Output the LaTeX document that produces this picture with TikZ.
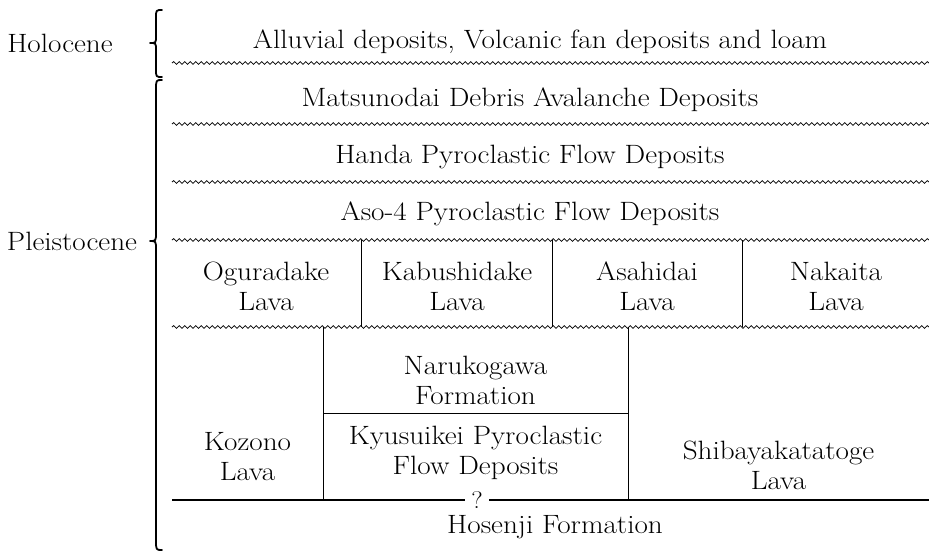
\documentclass[tikz,border=0pt]{standalone}
\usepackage{fontspec}
\setmainfont{Latin Modern Roman}[FakeStretch=1.1]
\usetikzlibrary{decorations.pathmorphing}
\begin{document}
\begin{tikzpicture}[x=1pt,y=-1pt,
  lbl/.style={font=\fontsize{26.5}{30}\selectfont, inner sep=0pt, align=center},
  wavy/.style={line width=0.8pt, decorate, decoration={snake, amplitude=1.4pt, segment length=5.5pt}},
  rule/.style={line width=0.9pt},
  bracel/.style={line width=1.8pt, line cap=round, line join=round}]
\useasboundingbox (0,0) rectangle (929,554);
% labels
\node[lbl] (holo) at (60,43) {Holocene};
\node[lbl] (plei) at (72,241) {Pleistocene};
\node[lbl] (alluv) at (540,42) {Alluvial deposits, Volcanic fan deposits and loam};
\node[lbl] (mats) at (530,100) {Matsunodai Debris Avalanche Deposits};
\node[lbl] (handa) at (530,157) {Handa Pyroclastic Flow Deposits};
\node[lbl] (aso) at (530,214) {Aso-4 Pyroclastic Flow Deposits};
\node[lbl] (ogura) at (266,286) {Oguradake\\Lava};
\node[lbl] (kabu) at (457,286) {Kabushidake\\Lava};
\node[lbl] (asahi) at (647,286) {Asahidai\\Lava};
\node[lbl] (naka) at (836,286) {Nakaita\\Lava};
\node[lbl] (naruko) at (475.5,380) {Narukogawa\\Formation};
\node[lbl] (kozono) at (247.5,457) {Kozono\\Lava};
\node[lbl] (shiba) at (778.5,465) {Shibayakatatoge\\Lava};
\node[lbl] (kyusu) at (475.5,453) {Kyusuikei Pyroclastic\\Flow Deposits};
\node[lbl] (hosen) at (555,527) {Hosenji Formation};
% braces
\draw[bracel] (162,10) .. controls (156,10) .. (156,18) -- (156,36)
  .. controls (156,43) .. (150,43) .. controls (156,43) .. (156,50)
  -- (156,69) .. controls (156,77) .. (162,77);
\draw[bracel] (162,80) .. controls (156,80) .. (156,90) -- (156,232)
  .. controls (156,241) .. (150,241) .. controls (156,241) .. (156,250)
  -- (156,540) .. controls (156,550) .. (162,550);
% wavy unconformities
\coordinate (w1l) at (172,63);  \coordinate (w1r) at (929,63);
\coordinate (w2l) at (172,124); \coordinate (w2r) at (929,124);
\coordinate (w3l) at (172,182); \coordinate (w3r) at (929,182);
\coordinate (w4l) at (172,240); \coordinate (w4r) at (929,240);
\coordinate (w5l) at (172,327); \coordinate (w5r) at (929,327);
\foreach \i in {1,...,5} \draw[wavy] (w\i l) -- (w\i r);
% lava row dividers
\foreach \x in {361,552,742} \draw[rule] (\x,240) -- (\x,327);
% lower blocks
\draw[rule] (323,327) -- (323,500);
\draw[rule] (628,327) -- (628,500);
\draw[rule] (323,413) -- (628,413);
% bottom contact with ?
\coordinate (bl) at (172,500);
\coordinate (br) at (929,500);
\draw[line width=1.1pt] (bl) -- (br);
\node[lbl, fill=white, inner xsep=6pt, font=\fontsize{24}{26}\selectfont] (q) at (477,500) {?};
\end{tikzpicture}
\end{document}
